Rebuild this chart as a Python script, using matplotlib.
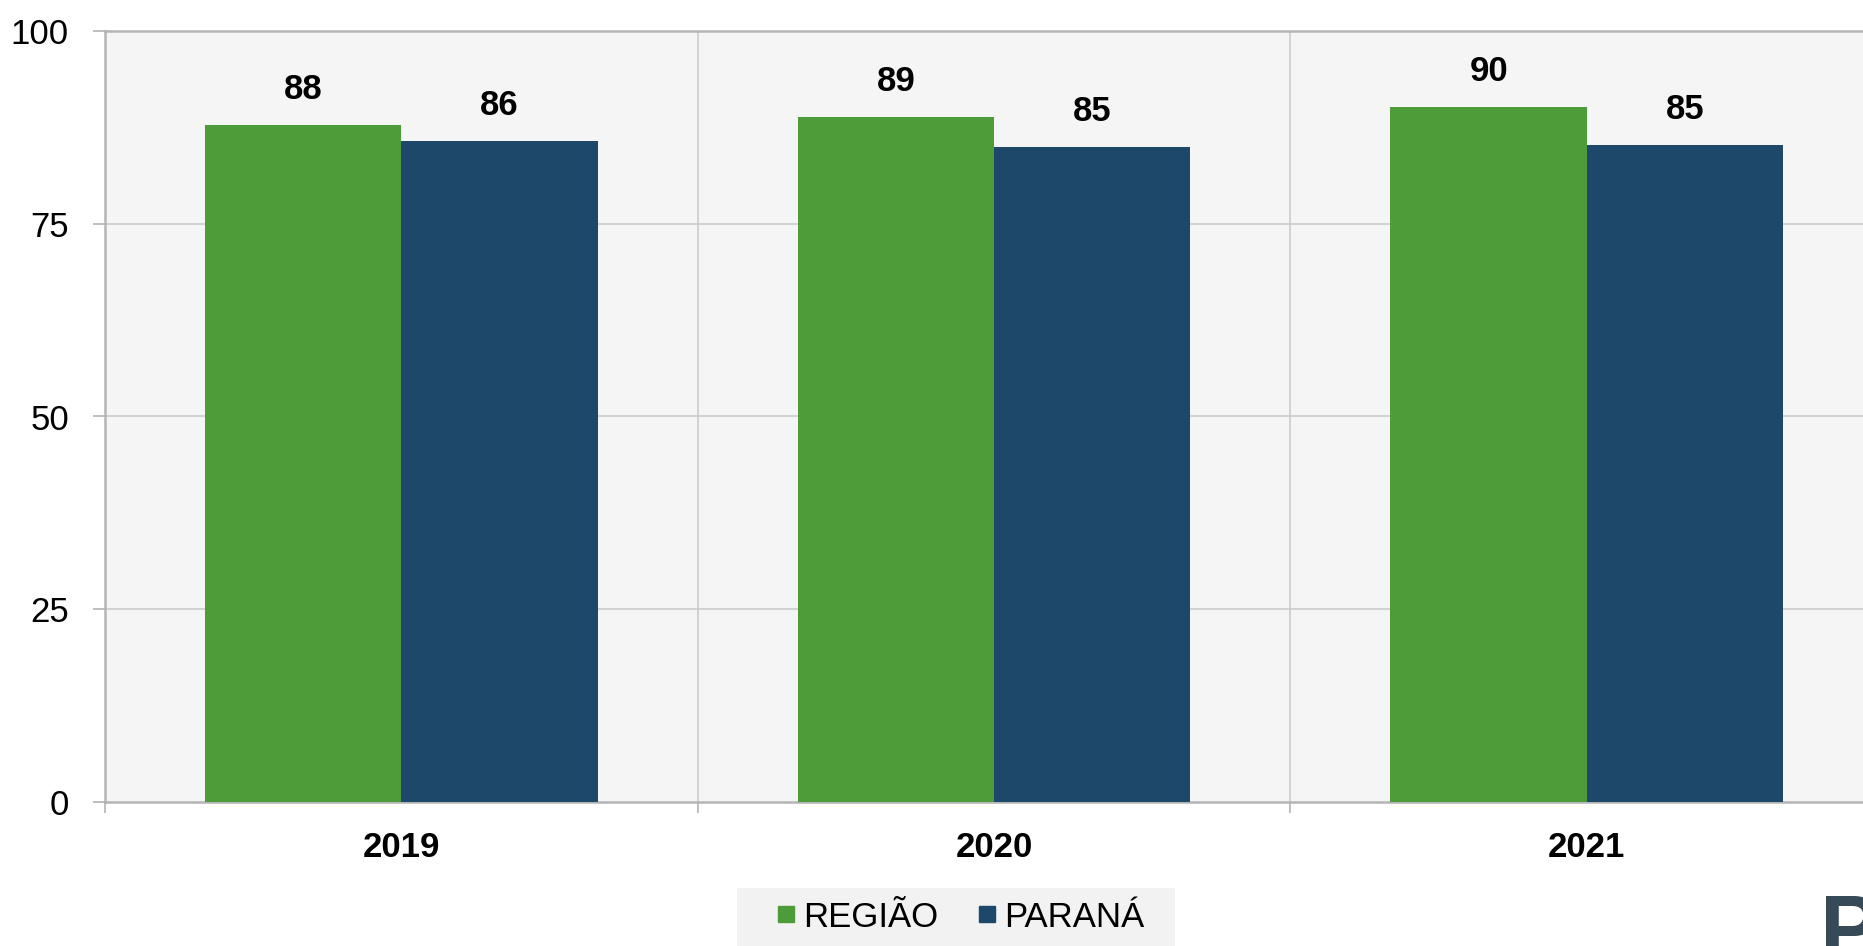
import matplotlib
matplotlib.use("Agg")
import matplotlib.pyplot as plt
import numpy as np
from matplotlib.lines import Line2D
from matplotlib.patches import Rectangle

# Dados do gráfico
anos = ["2019", "2020", "2021"]
regiao = [87.8, 88.8, 90.1]
parana = [85.7, 84.9, 85.2]
rotulos_regiao = ["88", "89", "90"]
rotulos_parana = ["86", "85", "85"]
series = ["REGIÃO", "PARANÁ"]
yticks = [0, 25, 50, 75, 100]

cor_regiao = "#4c9d3a"
cor_parana = "#1d486a"

plt.rcParams["font.family"] = ["Liberation Sans", "DejaVu Sans"]

W, H = 1863, 946
fig = plt.figure(figsize=(W / 100, H / 100), dpi=100)
fig.patch.set_facecolor("white")

# eixo estende-se além da borda direita (gráfico recortado)
ax = fig.add_axes([105 / W, 1 - 802 / H, (1883 - 105) / W, (802 - 31) / H])
ax.set_facecolor("#f5f5f5")

x = np.arange(len(anos))
largura = 0.331
b1 = ax.bar(x - largura / 2, regiao, largura, color=cor_regiao, zorder=3)
b2 = ax.bar(x + largura / 2, parana, largura, color=cor_parana, zorder=3)

for barras, rotulos in [(b1, rotulos_regiao), (b2, rotulos_parana)]:
    for b, r in zip(barras, rotulos):
        ax.annotate(r, (b.get_x() + b.get_width() / 2, b.get_height()),
                    xytext=(0, 14), textcoords="offset points",
                    ha="center", va="bottom", fontsize=25, fontweight="bold",
                    color="black")

ax.set_xlim(-0.5, 2.5)
ax.set_ylim(0, 100)
ax.set_yticks(yticks)
ax.set_yticklabels([str(v) for v in yticks])

# grade
for v in [25, 50, 75]:
    ax.axhline(v, color="#c8c8c8", lw=1.1, zorder=1)
for v in [0.5, 1.5]:
    ax.axvline(v, color="#c8c8c8", lw=1.1, zorder=1)

# ticks do eixo x nos limites das categorias
ax.set_xticks([-0.5, 0.5, 1.5, 2.5])
ax.set_xticklabels([])
ax.set_xticks(x, minor=True)
ax.set_xticklabels(anos, minor=True, fontsize=25, fontweight="bold")
ax.tick_params(axis="x", which="minor", length=0, pad=21)
ax.tick_params(axis="x", which="major", length=8, width=1.2, color="#b4b4b4")
ax.tick_params(axis="y", length=9, width=1.2, color="#b4b4b4", pad=17,
               labelsize=25)

for s in ["left", "bottom", "top"]:
    ax.spines[s].set_color("#b4b4b4")
    ax.spines[s].set_linewidth(1.8)
ax.spines["right"].set_visible(False)

# legenda com fundo cinza
fig.patches.append(Rectangle((737 / W, 0), (1175 - 737) / W, 1 - 888 / H,
                             transform=fig.transFigure, facecolor="#f2f2f2",
                             edgecolor="none", zorder=0))
handles = [Line2D([], [], marker="s", ls="", color=cor_regiao, markersize=11),
           Line2D([], [], marker="s", ls="", color=cor_parana, markersize=11)]
fig.legend(handles, series, loc="center", bbox_to_anchor=(960 / W, 1 - 917 / H),
           ncol=2, frameon=False, fontsize=25, handletextpad=0.2,
           columnspacing=1.1, handlelength=0.6)

# logotipo cortado no canto
fig.text(1820 / W, -0.012, "P", ha="left", va="baseline", fontsize=64,
         fontweight="heavy", color="#364a57")

fig.savefig("out.png", dpi=100)
